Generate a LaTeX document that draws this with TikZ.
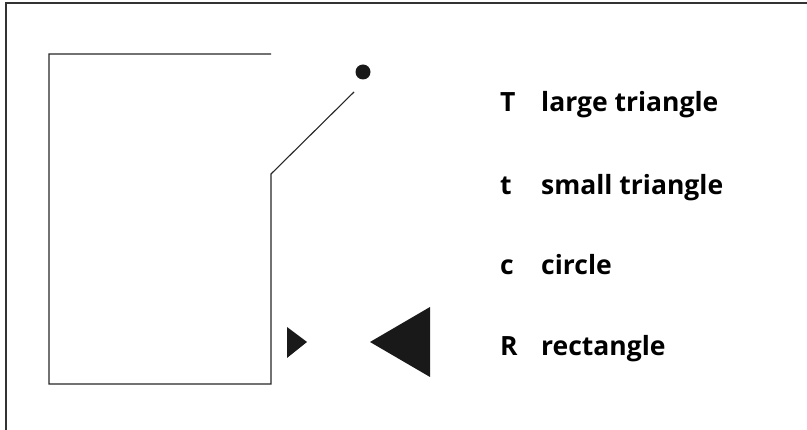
\documentclass[tikz,border=0pt]{standalone}
\usepackage{fontspec}
\setmainfont{Open Sans}
\begin{document}
\begin{tikzpicture}[x=1pt,y=-1pt,
  frame/.style={line width=1.3pt,draw=black!80},
  outline/.style={line width=1.1pt,draw=black!85},
  solid shape/.style={fill=black!90,draw=none},
  key/.style={anchor=base west,font=\fontsize{26.5}{30}\selectfont\bfseries,inner sep=0pt},
  desc/.style={anchor=base west,font=\fontsize{26.5}{30}\selectfont\bfseries,inner sep=0pt}]
\useasboundingbox (0,0) rectangle (807,430);
% outer frame
\coordinate (fTL) at (6,3);
\coordinate (fTR) at (807,3);
\coordinate (fBL) at (6,430);
\draw[frame] (fTR) -- (fTL) -- (fBL);
% rectangle with slanted line
\coordinate (rTR) at (271,54);
\coordinate (rTL) at (49,54);
\coordinate (rBL) at (49,384);
\coordinate (rBR) at (271,384);
\coordinate (rK) at (271,174);
\coordinate (rE) at (354,92);
\draw[outline] (rTR) -- (rTL) -- (rBL) -- (rBR) -- (rK) -- (rE);
% circle
\node[circle,fill=black!90,minimum size=15pt,inner sep=0pt] (c) at (363,72) {};
% small triangle
\path[solid shape] (287,327) -- (307,342) -- (287,358) -- cycle;
% large triangle
\path[solid shape] (430,307) -- (370,342) -- (430,377) -- cycle;
% labels
\node[key] (k1) at (500,112) {T};
\node[desc] (d1) at (541,112) {large triangle};
\node[key] (k2) at (500,195) {t};
\node[desc] (d2) at (541,195) {small triangle};
\node[key] (k3) at (500,275) {c};
\node[desc] (d3) at (541,275) {circle};
\node[key] (k4) at (500,356) {R};
\node[desc] (d4) at (541,356) {rectangle};
\end{tikzpicture}
\end{document}
